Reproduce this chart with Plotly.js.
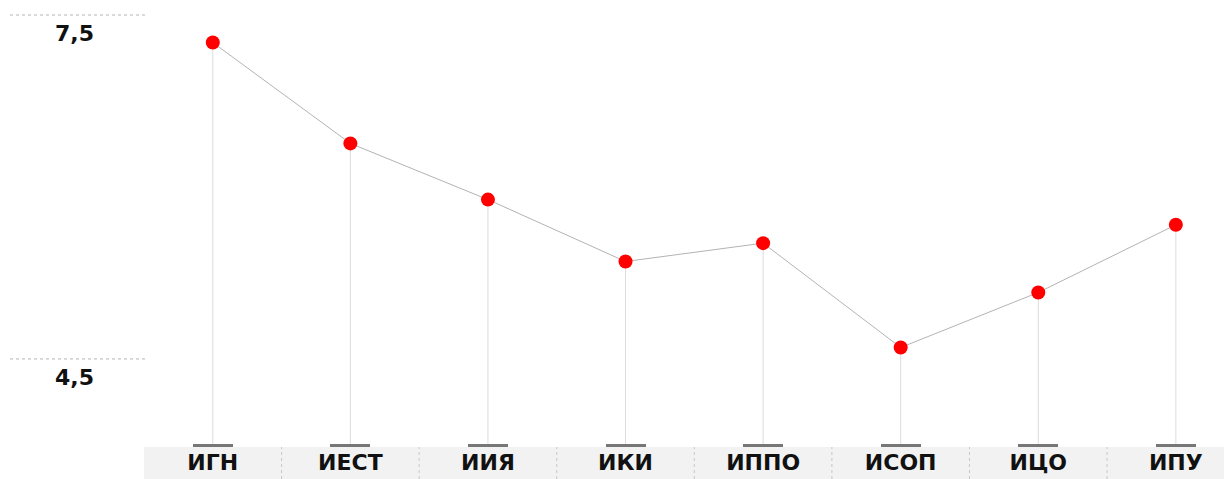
<!DOCTYPE html>
<html>
<head>
<meta charset="utf-8">
<script src="https://cdn.plot.ly/plotly-3.0.1.min.js"></script>
<style>html,body{margin:0;padding:0;background:#fff}#chart{width:1224px;height:479px}</style>
</head>
<body>
<div id="chart"></div>
<script>
const categories = ['ИГН', 'ИЕСТ', 'ИИЯ', 'ИКИ', 'ИППО', 'ИСОП', 'ИЦО', 'ИПУ'];
const values = [7.26, 6.38, 5.89, 5.35, 5.51, 4.60, 5.08, 5.67];
const yTickValues = [7.5, 4.5];
const yTickLabels = ['7,5', '4,5'];

const W = 1224, H = 479, ML = 144, MB = 32;
const plotW = W - ML, plotH = H - MB;
const yRange = [3.732, 7.631];
const font = '"DejaVu Sans", sans-serif';

// drop lines from each point to the bottom of the plot
const dropX = [], dropY = [];
categories.forEach((c, i) => { dropX.push(c, c, null); dropY.push(yRange[0], values[i], null); });

const traces = [
  {x: dropX, y: dropY, type: 'scatter', mode: 'lines', line: {color: '#dcdcdc', width: 1}, hoverinfo: 'skip', showlegend: false, cliponaxis: false},
  {x: categories, y: values, type: 'scatter', mode: 'lines+markers',
   line: {color: '#b3b3b3', width: 1},
   marker: {color: '#ff0000', size: 14},
   showlegend: false}
];

const shapes = [
  {type: 'rect', xref: 'paper', yref: 'paper', x0: 0, x1: 1, y0: -MB / plotH, y1: 0, fillcolor: '#f2f2f2', line: {width: 0}, layer: 'below'}
];
for (let i = 0; i < categories.length - 1; i++) {
  shapes.push({type: 'line', xref: 'x', yref: 'paper', x0: i + 0.5, x1: i + 0.5, y0: -MB / plotH, y1: 0,
    line: {color: '#c8c8c8', width: 1, dash: 'dot'}, layer: 'below'});
}
const annotations = [];
yTickValues.forEach((v, i) => {
  shapes.push({type: 'line', xref: 'paper', yref: 'y', x0: (10 - ML) / plotW, x1: (147 - ML) / plotW, y0: v, y1: v,
    line: {color: '#b5b5b5', width: 1, dash: 'dot'}});
  annotations.push({xref: 'paper', yref: 'y', x: (74 - ML) / plotW, y: v, yanchor: 'top', xanchor: 'center',
    yshift: -4, showarrow: false, text: yTickLabels[i],
    font: {family: font, size: 22, color: '#111', weight: 'bold'}});
});

const layout = {
  width: W, height: H,
  margin: {l: ML, r: 0, t: 0, b: MB, pad: 0},
  paper_bgcolor: '#fff', plot_bgcolor: 'rgba(0,0,0,0)',
  xaxis: {type: 'category', range: [-0.5, 7.35], showgrid: false, zeroline: false, showline: false,
    ticks: 'inside', ticklen: 3, tickwidth: 40, tickcolor: '#777777',
    tickfont: {family: font, size: 22, color: '#111', weight: 'bold'}, ticklabelstandoff: 0},
  yaxis: {range: yRange, showgrid: false, zeroline: false, showline: false, showticklabels: false, ticks: ''},
  shapes: shapes,
  annotations: annotations,
  hovermode: false
};

Plotly.newPlot('chart', traces, layout, {displayModeBar: false, staticPlot: true});
</script>
</body>
</html>
